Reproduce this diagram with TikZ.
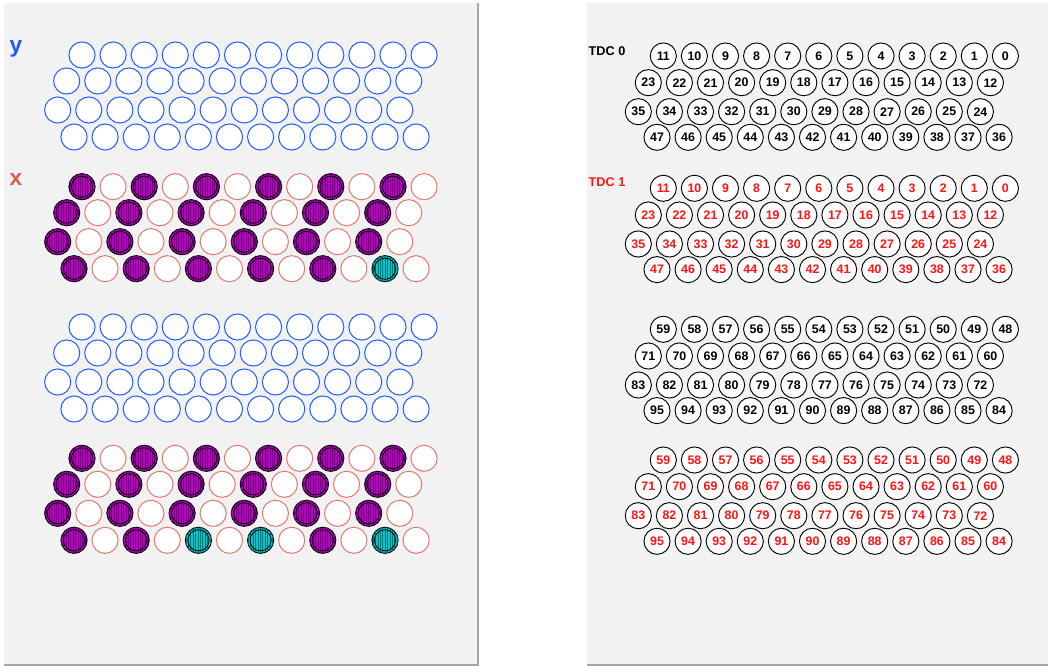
\documentclass[tikz,border=0pt]{standalone}
\usepackage{fontspec}
\setmainfont{Liberation Sans}
\usetikzlibrary{patterns}
\pgfdeclarepatternformonly{finevlines}{\pgfqpoint{-0.1pt}{-0.1pt}}{\pgfqpoint{1.9pt}{1.9pt}}{\pgfqpoint{1.8pt}{1.8pt}}{%
  \pgfsetlinewidth{0.6pt}%
  \pgfpathmoveto{\pgfqpoint{0.9pt}{-0.1pt}}%
  \pgfpathlineto{\pgfqpoint{0.9pt}{1.9pt}}%
  \pgfusepath{stroke}}
\definecolor{panel}{RGB}{242,242,242}
\definecolor{paneledge}{RGB}{165,165,165}
\definecolor{yblue}{RGB}{30,90,255}
\definecolor{xsalmon}{RGB}{228,120,110}
\definecolor{xlab}{RGB}{215,95,80}
\definecolor{purp}{RGB}{185,0,195}
\definecolor{purpdark}{RGB}{110,0,120}
\definecolor{cyanf}{RGB}{0,200,205}
\definecolor{cyandark}{RGB}{0,115,120}
\definecolor{tdcred}{RGB}{255,20,20}
\begin{document}
\begin{tikzpicture}[x=0.75pt,y=-0.75pt,
  base/.style={circle, inner sep=0pt, minimum size=19.6pt, line width=0.75pt},
  yopen/.style={base, draw=yblue, fill=white},
  xopen/.style={base, draw=xsalmon, fill=white},
  xfull/.style={base, draw=black, fill=purp, postaction={pattern=finevlines, pattern color=purpdark}},
  xcyan/.style={base, draw=black, fill=cyanf, postaction={pattern=finevlines, pattern color=cyandark}},
  inring/.style={line width=0.6pt, draw=black},
  numc/.style={base, draw=black, line width=0.7pt, fill=white, font=\bfseries\fontsize{9.3pt}{10pt}\selectfont},
  tdc/.style={anchor=west, font=\bfseries\fontsize{9.5pt}{10pt}\selectfont},
  axlab/.style={anchor=base west, font=\bfseries\fontsize{17pt}{18pt}\selectfont}
]
\useasboundingbox (0,0) rectangle (1048,666);
\fill[white] (0,0) rectangle (1048,666);
% panels
\fill[panel] (4,3) rectangle (478,664);
\draw[paneledge, line width=1.5pt] (478,3) -- (478,664.5) -- (4,664.5);
\fill[panel] (587,3) rectangle (1048,664);
\draw[paneledge, line width=1.5pt] (587,664.5) -- (1048,664.5);
% axis labels
\node[axlab, text=yblue] (ylab) at (5,53) {y};
\node[axlab, text=xlab] (xlab) at (5,186) {x};
% y blocks
\foreach \blk/\by in {1/0,3/272}{
  \foreach \r/\ry/\rx in {1/55/82,2/81/66.7,3/110/57.7,4/137/74}{
    \foreach \c in {0,...,11}{
      \node[yopen] (y\blk-\r-\c) at ({\rx+\c*31.1},{\by+\ry}) {};
    }
  }
}
% x blocks
\foreach \blk/\by in {2/131.7,4/403.3}{
  \foreach \r/\ry/\rx in {1/55/82,2/81/66.7,3/110/57.7,4/137/74}{
    \foreach \c in {0,...,11}{
      \pgfmathtruncatemacro\isodd{mod(\c,2)}
      \pgfmathtruncatemacro\iscy{(\r==4)&&((\c==10)||((\blk==4)&&((\c==4)||(\c==6))))}
      \ifnum\isodd=1
        \node[xopen] (x\blk-\r-\c) at ({\rx+\c*31.1},{\by+\ry}) {};
      \else
        \ifnum\iscy=1
          \node[xcyan] (x\blk-\r-\c) at ({\rx+\c*31.1},{\by+\ry}) {};
        \else
          \node[xfull] (x\blk-\r-\c) at ({\rx+\c*31.1},{\by+\ry}) {};
        \fi
        \draw[inring] (x\blk-\r-\c.center) circle (10.6);
      \fi
    }
  }
}
% right panel
\node[tdc, text=black] (tdc0) at (584,51.5) {TDC 0};
\node[tdc, text=tdcred] (tdc1) at (584,182) {TDC 1};
\foreach \blk/\by/\k/\col in {1/0/0/black,2/132.3/0/tdcred,3/273.3/48/black,4/404/48/tdcred}{
  \foreach \r/\ry/\rx in {1/56/663.3,2/82.7/648.3,3/111.7/638.3,4/137.3/657}{
    \foreach \c in {0,...,11}{
      \pgfmathtruncatemacro\num{\k+12*(\r-1)+11-\c}
      \node[numc, text=\col] (n\blk-\r-\c) at ({\rx+\c*31.1},{\by+\ry}) {\raisebox{-1.2pt}{\num}};
    }
  }
}
\end{tikzpicture}
\end{document}
